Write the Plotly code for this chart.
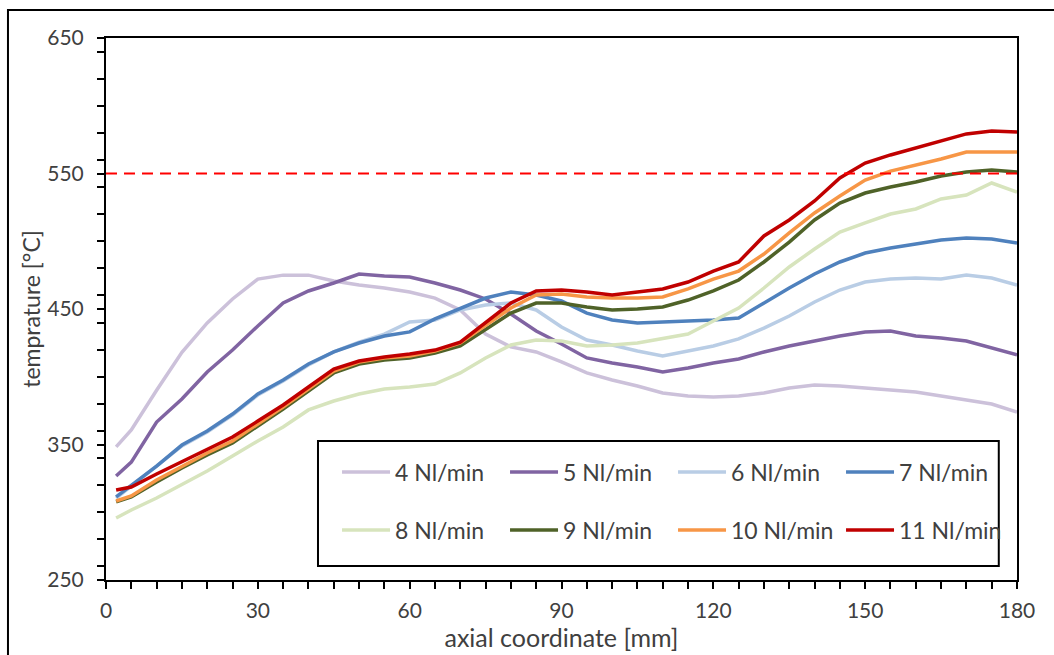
import plotly.graph_objects as go

axial_mm = [2, 5, 10, 15, 20, 25, 30, 35, 40, 45, 50, 55, 60, 65, 70, 75, 80, 85, 90,
            95, 100, 105, 110, 115, 120, 125, 130, 135, 140, 145, 150, 155, 160, 165, 170, 175, 180]

t_4 = [348.2, 360.7, 390.0, 418.0, 439.7, 457.4, 472.1, 475.0, 475.0, 470.7, 467.7, 465.5, 462.5,
       458.0, 449.3, 431.5, 422.0, 418.3, 410.9, 402.8, 397.6, 393.2, 388.0, 385.8, 385.0, 385.8,
       388.0, 391.7, 393.9, 393.2, 391.7, 390.2, 388.7, 385.8, 382.8, 379.9, 374.0]
t_5 = [326.8, 337.0, 366.6, 383.6, 403.5, 419.7, 437.5, 454.4, 463.3, 469.2, 475.8, 474.3, 473.6,
       469.2, 464.0, 457.4, 446.3, 433.8, 424.2, 413.9, 410.1, 407.2, 403.5, 406.4, 410.1, 413.1,
       418.3, 422.7, 426.4, 430.1, 433.1, 433.8, 430.1, 428.6, 426.4, 421.2, 416.1]
t_6 = [310.5, 319.4, 333.4, 348.9, 359.3, 371.8, 386.5, 396.9, 408.7, 418.3, 425.6, 431.5, 440.4,
       441.9, 449.3, 453.0, 454.4, 449.3, 436.7, 427.1, 423.4, 419.0, 415.3, 419.0, 422.7, 427.9,
       435.9, 444.8, 455.2, 464.0, 469.9, 472.1, 472.9, 472.1, 475.1, 472.9, 467.7]
t_7 = [311.3, 320.1, 334.1, 349.6, 360.0, 372.5, 387.3, 397.6, 409.4, 418.3, 424.9, 430.1, 433.1,
       442.7, 450.7, 458.1, 462.5, 460.3, 455.9, 447.0, 441.9, 439.7, 440.4, 441.1, 441.9, 443.3,
       454.4, 465.5, 475.8, 484.7, 491.3, 495.0, 498.0, 500.9, 502.4, 501.7, 498.7]
t_8 = [295.8, 301.7, 310.5, 320.1, 330.4, 341.5, 352.6, 362.9, 375.5, 382.1, 387.3, 391.0, 392.4,
       394.6, 402.8, 413.8, 423.4, 427.1, 426.4, 422.7, 423.4, 424.9, 427.9, 431.5, 441.1, 450.7,
       465.5, 481.0, 494.3, 506.8, 513.5, 520.1, 523.8, 531.2, 534.1, 543.0, 536.3]
t_9 = [307.6, 311.3, 322.3, 332.7, 342.3, 351.1, 363.7, 376.2, 389.5, 402.8, 409.4, 412.4, 413.9,
       417.5, 422.7, 434.5, 447.0, 454.4, 454.4, 451.5, 449.3, 450.0, 451.5, 456.6, 463.3, 471.4,
       484.7, 499.4, 515.7, 528.2, 535.6, 540.0, 543.7, 548.1, 551.1, 552.6, 551.1]
t_10 = [308.3, 312.0, 323.8, 334.1, 343.7, 352.6, 365.1, 377.7, 391.0, 404.2, 410.9, 413.9, 415.3,
        419.0, 424.9, 437.5, 450.7, 460.3, 461.1, 458.9, 458.1, 458.1, 458.9, 464.8, 472.1, 478.0,
        490.6, 506.1, 520.9, 533.4, 545.2, 551.8, 556.3, 560.7, 565.9, 565.9, 565.9]
t_11 = [316.4, 318.6, 328.2, 337.1, 346.7, 355.5, 367.3, 379.2, 392.4, 405.7, 411.6, 414.6, 416.8,
        419.7, 425.6, 440.4, 454.4, 463.3, 464.0, 462.5, 460.3, 462.5, 464.8, 469.9, 478.0, 484.7,
        503.9, 515.7, 529.7, 546.7, 557.7, 563.7, 568.8, 574.0, 579.2, 581.4, 580.6]

series_names = ["4 Nl/min", "5 Nl/min", "6 Nl/min", "7 Nl/min",
                "8 Nl/min", "9 Nl/min", "10 Nl/min", "11 Nl/min"]
series_values = [t_4, t_5, t_6, t_7, t_8, t_9, t_10, t_11]
series_colors = ["#ccc1da", "#8064a2", "#b9cde5", "#4f81bd",
                 "#d7e4bd", "#4f6228", "#f79646", "#c00000"]
limit_temp = 550

FONT = "Lato"
TXT = "#404040"

fig = go.Figure()
for i, (name, vals, col) in enumerate(zip(series_names, series_values, series_colors)):
    fig.add_trace(go.Scatter(
        x=axial_mm, y=vals, name=name, mode="lines",
        line=dict(color=col, width=3.5),
        legend="legend" if i < 4 else "legend2",
    ))

fig.add_shape(type="line", xref="paper", yref="y", x0=0, x1=1, y0=limit_temp, y1=limit_temp,
              line=dict(color="#ff0000", width=2, dash="11px,7px"))

# legend frame
fig.add_shape(type="rect", xref="paper", yref="paper", x0=0.2327, x1=0.980, y0=0.0258, y1=0.2565,
              line=dict(color="black", width=2), fillcolor="white", layer="above")
# outer chart frame
fig.add_shape(type="rect", xref="paper", yref="paper", x0=-0.1076, x1=1.08, y0=-0.25, y1=1.0517,
              line=dict(color="black", width=2), layer="below")

axis_common = dict(
    showgrid=False, zeroline=False, showline=True, linecolor="black", linewidth=2,
    mirror=True, ticks="outside", ticklen=7, tickwidth=1.5, tickcolor="black",
    tickfont=dict(family=FONT, size=21, color=TXT),
)

fig.update_xaxes(range=[0, 180], dtick=30, tick0=0,
                 minor=dict(dtick=5, ticks="outside", ticklen=7, tickwidth=1.5, tickcolor="black"),
                 title=dict(text="axial coordinate [mm]", font=dict(family=FONT, size=25, color=TXT), standoff=0),
                 ticklabelstandoff=4,
                 **axis_common)
fig.update_yaxes(range=[250, 650], dtick=100, tick0=250,
                 minor=dict(dtick=20, ticks="outside", ticklen=7, tickwidth=1.5, tickcolor="black"),
                 title=dict(text="temprature [°C]", font=dict(family=FONT, size=23, color=TXT), standoff=0),
                 ticklabelstandoff=9,
                 **axis_common)

legend_common = dict(orientation="h", xanchor="left", yanchor="middle", x=0.2536,
                     bgcolor="rgba(0,0,0,0)", borderwidth=0, itemwidth=48,
                     entrywidth=105, entrywidthmode="pixels",
                     font=dict(family=FONT, size=23, color=TXT))

fig.update_layout(
    width=1054, height=655,
    margin=dict(l=106, r=37, t=38, b=75, autoexpand=False),
    paper_bgcolor="white", plot_bgcolor="white",
    font=dict(family=FONT, color=TXT),
    showlegend=True,
    legend=dict(y=0.1993, **legend_common),
    legend2=dict(y=0.0923, **legend_common),
)

fig.write_html("out.html", config={"displayModeBar": False},
               post_script="document.body.style.margin='0';")
